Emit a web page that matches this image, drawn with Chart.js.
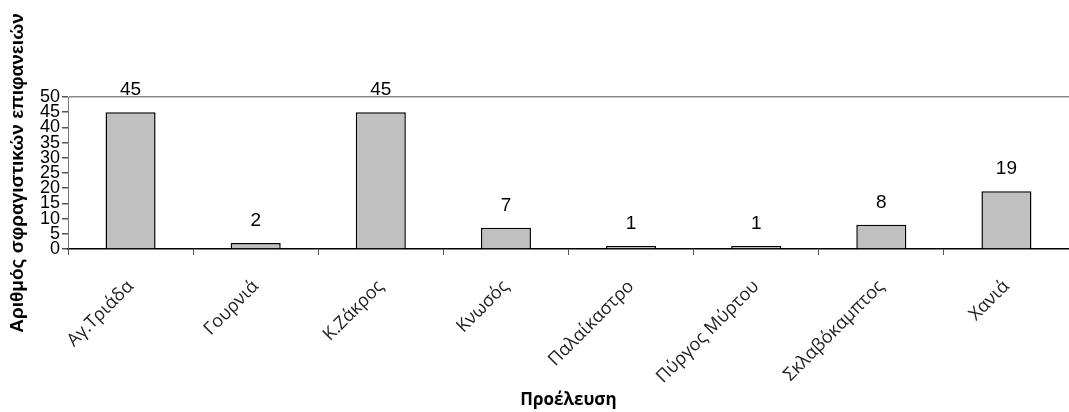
<!DOCTYPE html>
<html><head><meta charset="utf-8">
<script src="https://cdn.jsdelivr.net/npm/chart.js@4.4.1/dist/chart.umd.min.js"></script>
<style>html,body{margin:0;padding:0;background:#fff}#wrap{width:1069px;height:412px}</style>
</head><body><div id="wrap"><canvas id="c" width="1069" height="412"></canvas></div>
<script>
const categories = ["Αγ.Τριάδα","Γουρνιά","Κ.Ζάκρος","Κνωσός","Παλαίκαστρο","Πύργος Μύρτου","Σκλαβόκαμπτος","Χανιά"];
const values = [45, 2, 45, 7, 1, 1, 8, 19];
const yTitle = "Αριθμός σφραγιστικών επιφανειών";
const xTitle = "Προέλευση";

const dataLabels = {
  id: 'dataLabels',
  afterDatasetsDraw(chart) {
    const ctx = chart.ctx;
    const meta = chart.getDatasetMeta(0);
    ctx.save();
    ctx.font = '19px "Liberation Sans", Arial, sans-serif';
    ctx.fillStyle = '#000';
    ctx.textAlign = 'center';
    ctx.textBaseline = 'middle';
    meta.data.forEach((el, i) => {
      ctx.fillText(String(values[i]), el.x, el.y - 22);
    });
    ctx.restore();
  }
};

new Chart(document.getElementById('c'), {
  type: 'bar',
  data: {
    labels: categories,
    datasets: [{
      data: values,
      backgroundColor: '#c0c0c0',
      borderColor: '#000',
      borderWidth: 1.5,
      barPercentage: 0.4,
      categoryPercentage: 1.0
    }]
  },
  plugins: [dataLabels],
  options: {
    responsive: false,
    animation: false,
    layout: { padding: { top: 97, right: -14, bottom: 0, left: 0 } },
    plugins: { legend: { display: false }, tooltip: { enabled: false } },
    scales: {
      x: {
        offset: true,
        grid: { offset: true, drawOnChartArea: false, drawTicks: true, tickLength: 6, tickColor: '#555' },
        border: { color: '#000', width: 1.5 },
        ticks: {
          maxRotation: 45, minRotation: 45, padding: 21, autoSkip: false,
          color: '#222',
          font: { family: '"Open Sans", sans-serif', size: 18 }
        },
        title: {
          display: true, text: xTitle, color: '#000',
          font: { family: '"Open Sans", sans-serif', size: 17, weight: 'bold' },
          padding: { top: 0, bottom: 2 }
        },
        afterFit(scale) { scale.height = 163; }
      },
      y: {
        min: 0, max: 50,
        ticks: {
          stepSize: 5, color: '#000', padding: 2, autoSkip: false,
          font: { family: '"Liberation Sans", Arial, sans-serif', size: 18 }
        },
        grid: {
          color: (c) => (c.tick && c.tick.value === 50 ? '#888' : 'rgba(0,0,0,0)'),
          lineWidth: 1.5,
          tickColor: '#555', tickLength: 6, drawTicks: true
        },
        border: { color: '#777', width: 1 },
        title: {
          display: true, text: yTitle, color: '#000',
          font: { family: '"Liberation Sans", Arial, sans-serif', size: 19, weight: 'bold' },
          padding: { top: 6, bottom: 0 }
        },
        afterFit(scale) { scale.width = 68; }
      }
    }
  }
});
</script></body></html>
